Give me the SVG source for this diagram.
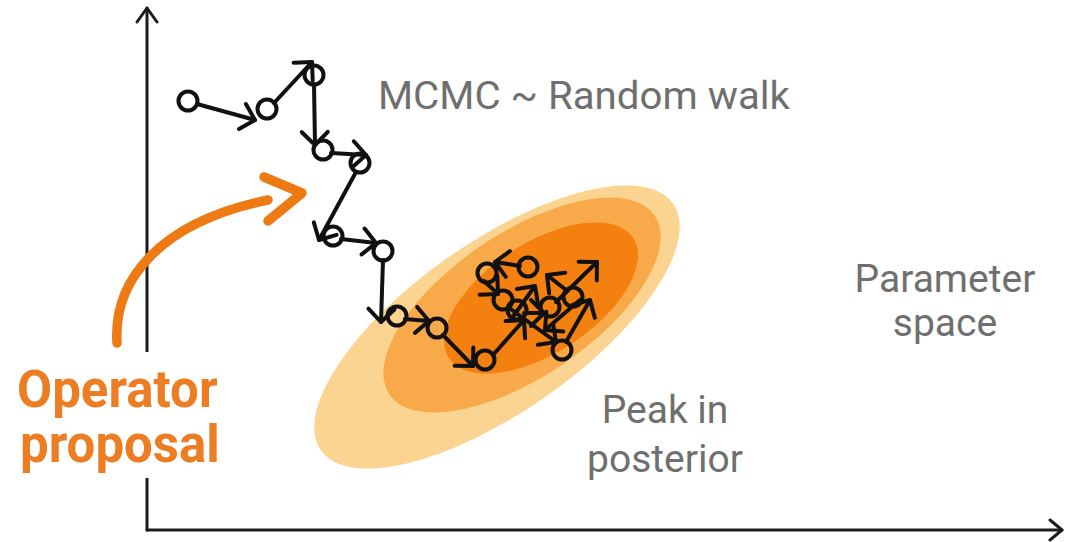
<svg xmlns="http://www.w3.org/2000/svg" width="1065" height="542" viewBox="0 0 1065 542">
  <style>
    .axis { stroke: #1c1c1c; stroke-width: 3; fill: none; stroke-linecap: round; stroke-linejoin: round; }
    .label { font-family: Roboto, "Liberation Sans", sans-serif; fill: #6f6f6f; font-size: 39px; }
    .accent { font-family: Roboto, "Liberation Sans", sans-serif; fill: #ec7d22; font-size: 51px; font-weight: 700; }
    .step { stroke: #111; stroke-width: 4; fill: none; stroke-linecap: round; marker-end: url(#chev); }
    .state { stroke: #111; stroke-width: 4; fill: none; }
    .brush { stroke: #ee7a14; stroke-width: 9.5; fill: none; stroke-linecap: round; stroke-linejoin: round; }
  </style>
  <defs>
    <marker id="chev" markerUnits="userSpaceOnUse" markerWidth="30" markerHeight="30" refX="0" refY="0" orient="auto" overflow="visible">
      <path d="M-13,-13 L0,0 L-13,13" fill="none" stroke="#111" stroke-width="4" stroke-linecap="round" stroke-linejoin="round"/>
    </marker>
  </defs>

  <rect width="1065" height="542" fill="#ffffff"/>

  <!-- posterior density contours -->
  <g id="posterior">
    <ellipse cx="497" cy="327" rx="215" ry="85" transform="rotate(-35 497 327)" fill="#fcd491"/>
    <ellipse cx="522" cy="305" rx="160" ry="72" transform="rotate(-34 522 305)" fill="#f8aa4a"/>
    <ellipse cx="541" cy="298" rx="110" ry="55" transform="rotate(-33 541 298)" fill="#f3800f"/>
  </g>

  <!-- axes -->
  <g id="axes">
    <path class="axis" d="M147,530 L147,8"/>
    <path class="axis" d="M137,22 L147,8 L157,22"/>
    <path class="axis" d="M147,530 L1062,530"/>
    <path class="axis" d="M1050,520 L1062,530 L1050,540"/>
  </g>

  <!-- sampler states -->
  <g id="states">
    <circle class="state" cx="188" cy="101" r="9.5"/>
    <circle class="state" cx="267" cy="109" r="9.5"/>
    <circle class="state" cx="314" cy="75" r="9.5"/>
    <circle class="state" cx="323" cy="150" r="9.5"/>
    <circle class="state" cx="360" cy="163" r="9.5"/>
    <circle class="state" cx="333" cy="236" r="9.5"/>
    <circle class="state" cx="383" cy="251" r="9.5"/>
    <circle class="state" cx="397" cy="316" r="9.5"/>
    <circle class="state" cx="437" cy="328" r="9.5"/>
    <circle class="state" cx="485" cy="360" r="9.5"/>
    <circle class="state" cx="487" cy="273" r="9.5"/>
    <circle class="state" cx="528" cy="267" r="9.5"/>
    <circle class="state" cx="573" cy="297" r="9.5"/>
    <circle class="state" cx="503" cy="300" r="9.5"/>
    <circle class="state" cx="517" cy="310" r="9.5"/>
    <circle class="state" cx="550" cy="307" r="9.5"/>
    <circle class="state" cx="562" cy="350" r="9.5"/>
  </g>

  <!-- proposal steps -->
  <g id="steps">
    <path class="step" d="M197,104 L255,120"/>
    <path class="step" d="M274,103 L312,62"/>
    <path class="step" d="M314,84 L315,145"/>
    <path class="step" d="M331,153 L366,155"/>
    <path class="step" d="M356,172 L319,240"/>
    <path class="step" d="M341,239 L376,243"/>
    <path class="step" d="M383,260 L381,322"/>
    <path class="step" d="M405,319 L429,321"/>
    <path class="step" d="M443,335 L473,366"/>
    <path class="step" d="M493,355 L524,320"/>
    <path class="step" d="M524,313 L544,313"/>
    <path class="step" d="M556,302 L597,262"/>
    <path class="step" d="M566,290 L547,275"/>
    <path class="step" d="M520,266 L495,262"/>
    <path class="step" d="M484,281 L498,294"/>
    <path class="step" d="M508,307 L556,342"/>
    <path class="step" d="M566,342 L590,300"/>
    <path class="step" d="M580,300 L545,330"/>
    <path class="step" d="M512,318 L535,286"/>
  </g>

  <!-- operator proposal annotation -->
  <g id="operator">
    <path class="brush" d="M117,343 C113,280 160,222 268,200"/>
    <path class="brush" d="M264,177 L302,193 L268,221"/>
    <rect x="8" y="352" width="222" height="126" fill="#ffffff"/>
    <text class="accent" x="17" y="407">Operator</text>
    <text class="accent" x="20" y="462">proposal</text>
  </g>

  <!-- labels -->
  <g id="labels">
    <text class="label" x="378" y="109" font-size="42" textLength="412" lengthAdjust="spacingAndGlyphs">MCMC ~ Random walk</text>
    <text class="label" x="945" y="292" text-anchor="middle">Parameter</text>
    <text class="label" x="945" y="336" text-anchor="middle">space</text>
    <text class="label" x="665" y="423" text-anchor="middle">Peak in</text>
    <text class="label" x="665" y="472" text-anchor="middle">posterior</text>
  </g>
</svg>
